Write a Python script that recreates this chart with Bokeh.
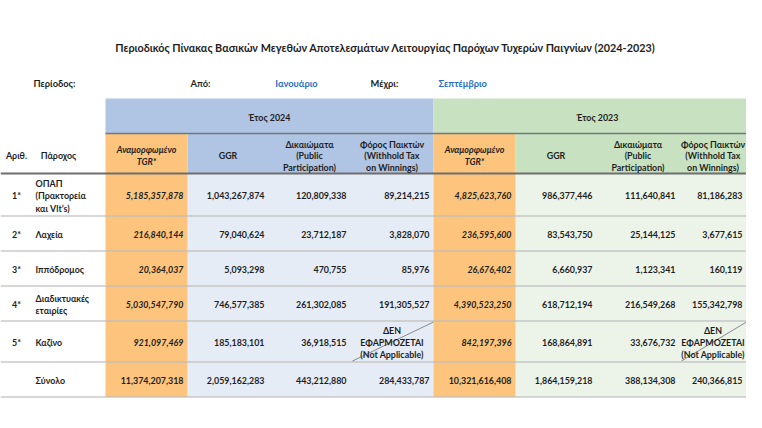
from bokeh.plotting import figure
from bokeh.models import Range1d
from bokeh.embed import file_html
from bokeh.resources import INLINE
from bokeh.core.properties import value

# ---------------- data ----------------
title = "Περιοδικός Πίνακας Βασικών Μεγεθών Αποτελεσμάτων Λειτουργίας Παρόχων Τυχερών Παιγνίων (2024-2023)"
period_from = "Ιανουάριο"
period_to = "Σεπτέμβριο"
years = ["Έτος 2024", "Έτος 2023"]
col_headers = [
    ["Αναμορφωμένο", "TGR*"],
    ["GGR"],
    ["Δικαιώματα", "(Public", "Participation)"],
    ["Φόρος Παικτών", "(Withhold Tax", "on Winnings)"],
]
row_nums = ["1*", "2*", "3*", "4*", "5*", ""]
providers = [
    ["ΟΠΑΠ", "(Πρακτορεία", "και Vlt’s)"],
    ["Λαχεία"],
    ["Ιππόδρομος"],
    ["Διαδικτυακές", "εταιρίες"],
    ["Καζίνο"],
    ["Σύνολο"],
]
tgr_2024 = [5185357878, 216840144, 20364037, 5030547790, 921097469, 11374207318]
ggr_2024 = [1043267874, 79040624, 5093298, 746577385, 185183101, 2059162283]
dik_2024 = [120809338, 23712187, 470755, 261302085, 36918515, 443212880]
tax_2024 = [89214215, 3828070, 85976, 191305527, None, 284433787]
tgr_2023 = [4825623760, 236595600, 26676402, 4390523250, 842197396, 10321616408]
ggr_2023 = [986377446, 83543750, 6660937, 618712194, 168864891, 1864159218]
dik_2023 = [111640841, 25144125, 1123341, 216549268, 33676732, 388134308]
tax_2023 = [81186283, 3677615, 160119, 155342798, None, 240366815]
na_text = ["ΔΕΝ", "ΕΦΑΡΜΟΖΕΤΑΙ", "(Not Applicable)"]

columns = [tgr_2024, ggr_2024, dik_2024, tax_2024, tgr_2023, ggr_2023, dik_2023, tax_2023]

# ---------------- layout ----------------
W, H = 746, 412
FONT = "Lato"
DARK = "#1e1e1e"
BLUE_TXT = "#1f6fc5"
HEAD_BLUE = "#b0c4e3"
HEAD_GREEN = "#c8e2c1"
ORANGE = "#fcc47c"
BODY_BLUE = "#e5ecf6"
BODY_GREEN = "#ecf4ea"

col_edges = [105, 187, 268, 350, 433, 515, 596, 679, W]
row_edges = [173, 215.5, 250.5, 285.5, 320.5, 361.5, 396.5]
band_top, sub_top = 98, 133
XR = col_edges[-1]

p = figure(width=W, height=H, output_backend="svg", toolbar_location=None,
           x_range=Range1d(0, W), y_range=Range1d(H, 0),
           min_border=0, outline_line_color=None)
p.axis.visible = False
p.grid.visible = False
p.background_fill_color = "white"
p.border_fill_color = "white"

# backgrounds
p.quad(left=[105, 433], right=[433, XR], top=[band_top] * 2, bottom=[sub_top] * 2,
       fill_color=[HEAD_BLUE, HEAD_GREEN], line_color=None)
p.quad(left=[col_edges[1], col_edges[5]], right=[col_edges[4], col_edges[8]],
       top=[sub_top] * 2, bottom=[row_edges[0]] * 2,
       fill_color=[HEAD_BLUE, HEAD_GREEN], line_color=None)
p.quad(left=[col_edges[1], col_edges[5]], right=[col_edges[4], col_edges[8]],
       top=[row_edges[0]] * 2, bottom=[row_edges[-1]] * 2,
       fill_color=[BODY_BLUE, BODY_GREEN], line_color=None)
p.quad(left=[col_edges[0], col_edges[4]], right=[col_edges[1], col_edges[5]],
       top=[sub_top] * 2, bottom=[row_edges[-1]] * 2,
       fill_color=ORANGE, line_color=None)

# lines
p.segment(x0=[105], y0=[sub_top], x1=[XR], y1=[sub_top], line_color="#6f7780", line_width=1.5)
p.segment(x0=[0], y0=[row_edges[0]], x1=[XR], y1=[row_edges[0]], line_color="#6f6f6f", line_width=1.8)
p.segment(x0=[0] * 6, y0=row_edges[1:], x1=[XR] * 6, y1=row_edges[1:],
          line_color="#bdbdbd", line_width=1.6, line_alpha=0.8)

# diagonal N/A lines
na_row = tax_2024.index(None)
for ci in (3, 7):
    p.segment(x0=[col_edges[ci] + 2], y0=[row_edges[na_row + 1] - 1],
              x1=[col_edges[ci + 1]], y1=[row_edges[na_row] + 1],
              line_color="#8a8a8a", line_width=1)


def txt(x, y, s, size=8.9, align="center", style="bold", color=DARK):
    p.text(x=[x], y=[y], text=[s], text_font=value(FONT), text_font_size=f"{size}px",
           text_font_style=style, text_color=color, text_align=align,
           text_baseline="middle")


# title and period row
txt(385, 47, title, size=10.8)
txt(33, 83, "Περίοδος:", size=9.3, align="left")
txt(190, 83, "Από:", size=9.3, align="left")
txt(296, 83, period_from, size=9.3, color=BLUE_TXT)
txt(370, 83, "Μέχρι:", size=9.3, align="left")
txt(438, 83, period_to, size=9.3, align="left", color=BLUE_TXT)

# year headers
txt((105 + 433) / 2, 117, years[0])
txt(597, 117, years[1])

# column headers
sub_mid = (sub_top + row_edges[0]) / 2 + 2
LH = 11.5
txt(16, sub_mid, "Αριθ.")
txt(58, sub_mid, "Πάροχος")
for block in range(2):
    for k, lines in enumerate(col_headers):
        ci = block * 4 + k
        cx = (col_edges[ci] + col_edges[ci + 1]) / 2
        n = len(lines)
        for j, s in enumerate(lines):
            y = sub_mid + (j - (n - 1) / 2) * LH
            txt(cx, y, s, style="bold italic" if k == 0 else "bold")

# body rows
def fmt(v):
    return f"{v:,}"

for r in range(len(providers)):
    y0, y1 = row_edges[r], row_edges[r + 1]
    ym = (y0 + y1) / 2 + 1
    is_total = r == len(providers) - 1
    txt(16, ym, row_nums[r])
    lines = providers[r]
    n = len(lines)
    for j, s in enumerate(lines):
        txt(35, ym + (j - (n - 1) / 2) * 12.5, s, align="left")
    for ci, col in enumerate(columns):
        v = col[r]
        right = col_edges[ci + 1] - 4
        if v is None:
            cx = (col_edges[ci] + col_edges[ci + 1]) / 2
            for j, s in enumerate(na_text):
                txt(cx, ym + (j - 1) * 12, s)
            continue
        style = "bold"
        if ci in (0, 4) and not is_total:
            style = "bold italic"
        txt(right, ym, fmt(v), align="right", style=style)

open("out.html", "w").write(file_html(p, INLINE))
